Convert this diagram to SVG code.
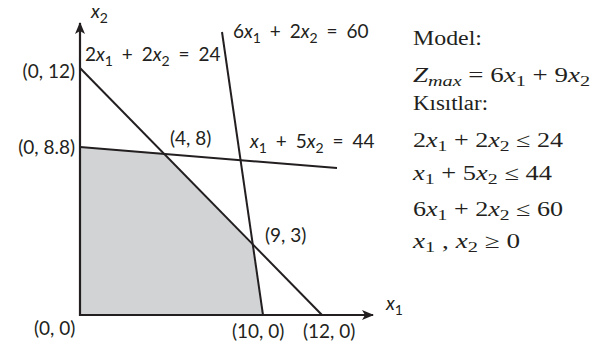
<svg xmlns="http://www.w3.org/2000/svg" width="600" height="349" viewBox="0 0 600 349">
<style>
.ax{stroke:#231f20;stroke-width:2.2;fill:none}
.ln{stroke:#231f20;stroke-width:2;fill:none}
.lb{font-family:Lato,"Open Sans",sans-serif;font-size:19px;fill:#231f20}
.eq{word-spacing:4px}
.sb{font-size:14px}
.i{font-style:italic}
.rt{font-family:"Liberation Serif","DejaVu Serif",serif;font-size:20px;fill:#231f20}
.rs{font-size:15px}
</style>
<defs>
<marker id="ah" viewBox="0 0 12 10" refX="11" refY="5" markerWidth="12" markerHeight="10" markerUnits="userSpaceOnUse" orient="auto">
<path d="M0,0 L12,5 L0,10 L3,5 Z" fill="#231f20"/>
</marker>
</defs>
<g id="region">
<polygon points="80,315 80,147 163,153 252,245 263,315" fill="#d1d3d4"/>
</g>
<g id="connectors">
<line class="ax" x1="80" y1="316" x2="80" y2="23" marker-end="url(#ah)"/>
<line class="ax" x1="79" y1="315" x2="373" y2="315" marker-end="url(#ah)"/>
<line class="ln" x1="80" y1="68" x2="322" y2="315"/>
<line class="ln" x1="80" y1="147" x2="337" y2="168"/>
<line class="ln" x1="263" y1="315" x2="222" y2="32"/>
</g>
<g id="axis-labels">
<text class="lb" x="91" y="18"><tspan class="i">x</tspan><tspan class="sb" dy="5">2</tspan></text>
<text class="lb" x="386" y="310"><tspan class="i">x</tspan><tspan class="sb" dy="5">1</tspan></text>
</g>
<g id="line-labels">
<text class="lb eq" x="85" y="61">2<tspan class="i">x</tspan><tspan class="sb" dy="5">1</tspan><tspan dy="-5"> + 2</tspan><tspan class="i">x</tspan><tspan class="sb" dy="5">2</tspan><tspan dy="-5"> = 24</tspan></text>
<text class="lb eq" x="233" y="38">6<tspan class="i">x</tspan><tspan class="sb" dy="5">1</tspan><tspan dy="-5"> + 2</tspan><tspan class="i">x</tspan><tspan class="sb" dy="5">2</tspan><tspan dy="-5"> = 60</tspan></text>
<text class="lb eq" x="250" y="148"><tspan class="i">x</tspan><tspan class="sb" dy="5">1</tspan><tspan dy="-5"> + 5</tspan><tspan class="i">x</tspan><tspan class="sb" dy="5">2</tspan><tspan dy="-5"> = 44</tspan></text>
</g>
<g id="point-labels">
<text class="lb" x="75" y="78" text-anchor="end">(0, 12)</text>
<text class="lb" x="75" y="154" text-anchor="end">(0, 8.8)</text>
<text class="lb" x="170" y="145">(4, 8)</text>
<text class="lb" x="265" y="242">(9, 3)</text>
<text class="lb" x="34" y="335">(0, 0)</text>
<text class="lb" x="232" y="338">(10, 0)</text>
<text class="lb" x="303" y="338">(12, 0)</text>
</g>
<g id="model">
<text class="rt" x="413" y="45" textLength="69" lengthAdjust="spacingAndGlyphs">Model:</text>
<text class="rt" x="413" y="82" textLength="177" lengthAdjust="spacingAndGlyphs"><tspan class="i">Z</tspan><tspan class="i rs" dy="4">max</tspan><tspan dy="-4"> = 6</tspan><tspan class="i">x</tspan><tspan class="rs" dy="4">1</tspan><tspan dy="-4"> + 9</tspan><tspan class="i">x</tspan><tspan class="rs" dy="4">2</tspan></text>
<text class="rt" x="413" y="110" textLength="75" lengthAdjust="spacingAndGlyphs">Kısıtlar:</text>
<text class="rt" x="413" y="147" textLength="150" lengthAdjust="spacingAndGlyphs">2<tspan class="i">x</tspan><tspan class="rs" dy="4">1</tspan><tspan dy="-4"> + 2</tspan><tspan class="i">x</tspan><tspan class="rs" dy="4">2</tspan><tspan dy="-4"> ≤ 24</tspan></text>
<text class="rt" x="413" y="180" textLength="139" lengthAdjust="spacingAndGlyphs"><tspan class="i">x</tspan><tspan class="rs" dy="4">1</tspan><tspan dy="-4"> + 5</tspan><tspan class="i">x</tspan><tspan class="rs" dy="4">2</tspan><tspan dy="-4"> ≤ 44</tspan></text>
<text class="rt" x="413" y="216" textLength="150" lengthAdjust="spacingAndGlyphs">6<tspan class="i">x</tspan><tspan class="rs" dy="4">1</tspan><tspan dy="-4"> + 2</tspan><tspan class="i">x</tspan><tspan class="rs" dy="4">2</tspan><tspan dy="-4"> ≤ 60</tspan></text>
<text class="rt" x="413" y="248" textLength="107" lengthAdjust="spacingAndGlyphs"><tspan class="i">x</tspan><tspan class="rs" dy="4">1</tspan><tspan dy="-4"> , </tspan><tspan class="i">x</tspan><tspan class="rs" dy="4">2</tspan><tspan dy="-4"> ≥ 0</tspan></text>
</g>
</svg>
